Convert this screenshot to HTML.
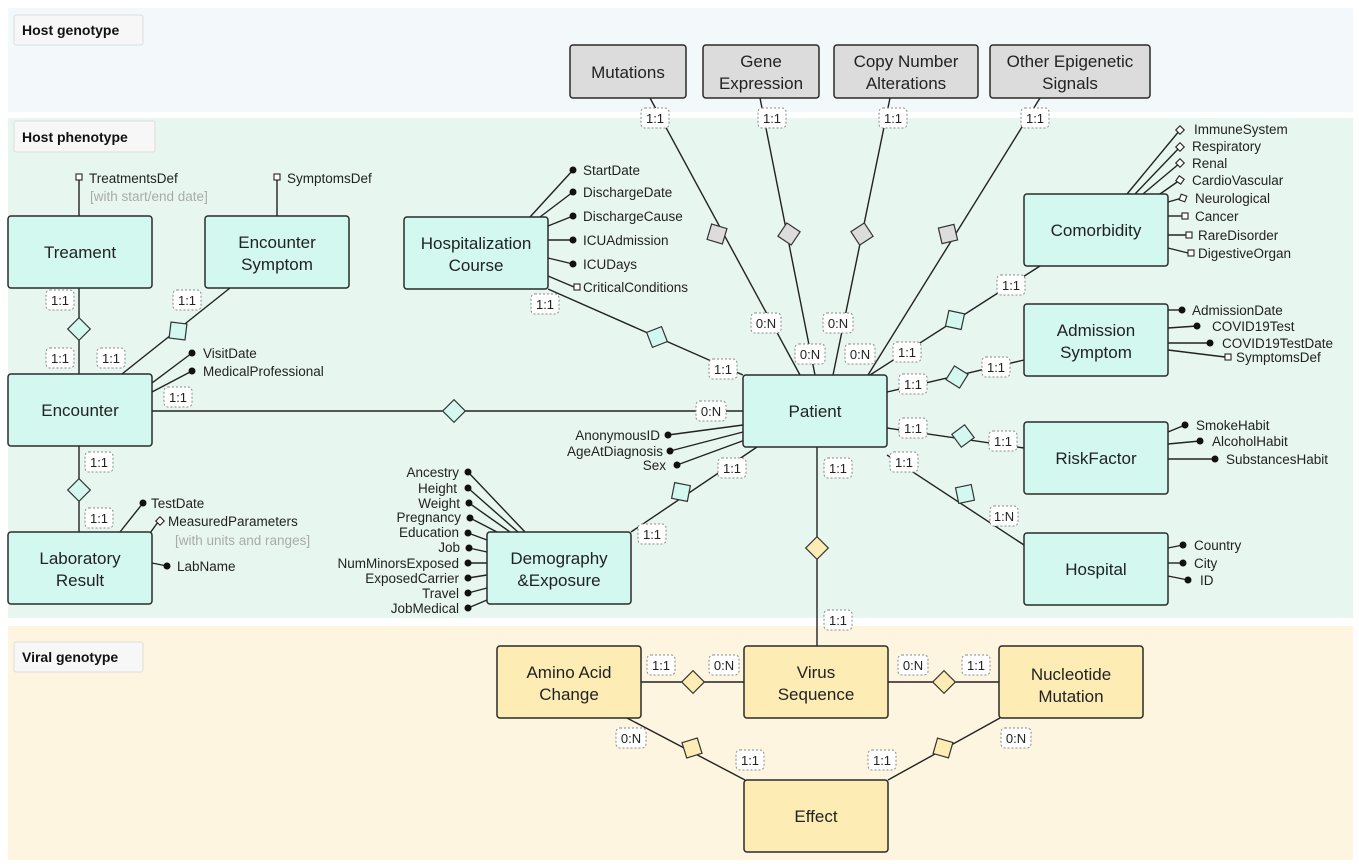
<!DOCTYPE html>
<html><head><meta charset="utf-8"><style>
html,body{margin:0;padding:0;background:#fff}
svg{display:block;font-family:"Liberation Sans",Arial,sans-serif}
.b{stroke:#2a2a2a;stroke-width:1.5}
.t{fill:#d3f8f0}.g{fill:#dcdcdc}.y{fill:#fdedb4}
.bt{font-size:17px;fill:#222;text-anchor:middle}
.a{font-size:13.5px;fill:#222}
.ar{font-size:13.5px;fill:#222;text-anchor:end}
.gr{font-size:13.5px;fill:#aaa}
.l{stroke:#222;stroke-width:1.4;fill:none}
.lb rect{fill:#fff;stroke:#888;stroke-dasharray:2 2;stroke-width:1}
.lb text{font-size:13px;fill:#222;text-anchor:middle}
.sec rect{fill:#f7f7f7;stroke:#ddd}
.sec text{font-size:14px;font-weight:bold;fill:#111}
</style></head><body>
<svg width="1359" height="864" viewBox="0 0 1359 864">
<defs>
<g id="dg"><rect x="-8" y="-8" width="16" height="16" stroke="#333" stroke-width="1.2"/></g>
</defs>
<rect x="8" y="8" width="1345" height="104" fill="#f3f8fa"/>
<rect x="8" y="118" width="1345" height="500" fill="#e7f7f0"/>
<rect x="8" y="626" width="1345" height="234" fill="#fdf5df"/>
<g class="sec"><rect x="14" y="15" width="129" height="30" rx="2"/><text x="22" y="35">Host genotype</text>
<rect x="14" y="121" width="141" height="31" rx="2"/><text x="22" y="142">Host phenotype</text>
<rect x="14" y="642" width="129" height="30" rx="2"/><text x="22" y="662">Viral genotype</text></g>

<!-- lines -->
<g class="l">
<line x1="650" y1="98" x2="800" y2="375"/><line x1="760" y1="98" x2="815" y2="375"/>
<line x1="890" y1="98" x2="833" y2="375"/><line x1="1040" y1="98" x2="868" y2="375"/>
<line x1="548" y1="289" x2="743" y2="375"/><line x1="152" y1="411" x2="743" y2="411"/>
<line x1="1040" y1="266" x2="870" y2="375"/><line x1="887" y1="392" x2="1024" y2="360"/>
<line x1="887" y1="428" x2="1024" y2="448"/><line x1="887" y1="455" x2="1024" y2="545"/>
<line x1="631" y1="532" x2="757" y2="447"/><line x1="817" y1="447" x2="817" y2="646"/>
<line x1="79" y1="288" x2="79" y2="374"/><line x1="230" y1="288" x2="122" y2="374"/>
<line x1="79" y1="446" x2="79" y2="532"/>
<line x1="641" y1="682" x2="744" y2="682"/><line x1="888" y1="682" x2="999" y2="682"/>
<line x1="627" y1="718" x2="745" y2="780"/><line x1="1000" y1="718" x2="888" y2="780"/>
<!-- attribute lines -->
<line x1="79" y1="216" x2="79" y2="180"/><line x1="277" y1="216" x2="277" y2="180"/>
<line x1="530" y1="217" x2="573" y2="170"/><line x1="540" y1="217" x2="573" y2="192"/>
<line x1="548" y1="226" x2="573" y2="216"/><line x1="548" y1="240" x2="573" y2="240"/>
<line x1="548" y1="258" x2="573" y2="264"/><line x1="548" y1="276" x2="574" y2="287"/>
<line x1="152" y1="383" x2="192" y2="353"/><line x1="152" y1="392" x2="192" y2="371"/>
<line x1="120" y1="532" x2="143" y2="503"/><line x1="145" y1="540" x2="158" y2="522"/>
<line x1="152" y1="563" x2="167" y2="566"/>
<line x1="743" y1="425" x2="668" y2="435"/><line x1="743" y1="432" x2="670" y2="451"/>
<line x1="745" y1="440" x2="677" y2="465"/>
<line x1="525" y1="532" x2="468" y2="472"/><line x1="518" y1="532" x2="468" y2="488"/>
<line x1="510" y1="532" x2="469" y2="503"/><line x1="497" y1="532" x2="470" y2="518"/>
<line x1="487" y1="540" x2="468" y2="533"/><line x1="487" y1="552" x2="469" y2="548"/>
<line x1="487" y1="563" x2="468" y2="563"/><line x1="487" y1="575" x2="468" y2="578"/>
<line x1="487" y1="588" x2="468" y2="593"/><line x1="487" y1="600" x2="468" y2="608"/>
<line x1="1127" y1="194" x2="1180" y2="130"/><line x1="1135" y1="194" x2="1180" y2="147"/>
<line x1="1143" y1="194" x2="1180" y2="163"/><line x1="1160" y1="194" x2="1180" y2="180"/>
<line x1="1168" y1="202" x2="1182" y2="198"/><line x1="1168" y1="216" x2="1182" y2="216"/>
<line x1="1168" y1="235" x2="1186" y2="235"/><line x1="1168" y1="248" x2="1188" y2="253"/>
<line x1="1168" y1="310" x2="1182" y2="310"/><line x1="1168" y1="328" x2="1197" y2="326"/>
<line x1="1168" y1="343" x2="1210" y2="343"/><line x1="1168" y1="350" x2="1225" y2="357"/>
<line x1="1168" y1="432" x2="1185" y2="425"/><line x1="1168" y1="444" x2="1200" y2="441"/>
<line x1="1168" y1="459" x2="1215" y2="459"/>
<line x1="1168" y1="548" x2="1183" y2="545"/><line x1="1168" y1="563" x2="1183" y2="563"/>
<line x1="1168" y1="576" x2="1188" y2="580"/>
</g>
<!-- dots -->
<g fill="#111">
<circle cx="573" cy="170" r="3.5"/><circle cx="573" cy="192" r="3.5"/><circle cx="573" cy="216" r="3.5"/>
<circle cx="573" cy="240" r="3.5"/><circle cx="573" cy="264" r="3.5"/>
<circle cx="192" cy="353" r="3.5"/><circle cx="192" cy="371" r="3.5"/>
<circle cx="143" cy="503" r="3.5"/><circle cx="167" cy="566" r="3.5"/>
<circle cx="668" cy="435" r="3.5"/><circle cx="670" cy="451" r="3.5"/><circle cx="677" cy="465" r="3.5"/>
<circle cx="468" cy="472" r="3.5"/><circle cx="468" cy="488" r="3.5"/><circle cx="469" cy="503" r="3.5"/>
<circle cx="470" cy="518" r="3.5"/><circle cx="468" cy="533" r="3.5"/><circle cx="469" cy="548" r="3.5"/>
<circle cx="468" cy="563" r="3.5"/><circle cx="468" cy="578" r="3.5"/><circle cx="468" cy="593" r="3.5"/>
<circle cx="468" cy="608" r="3.5"/>
<circle cx="1182" cy="310" r="3.5"/><circle cx="1197" cy="326" r="3.5"/><circle cx="1210" cy="343" r="3.5"/>
<circle cx="1185" cy="425" r="3.5"/><circle cx="1200" cy="441" r="3.5"/><circle cx="1215" cy="459" r="3.5"/>
<circle cx="1183" cy="545" r="3.5"/><circle cx="1183" cy="563" r="3.5"/><circle cx="1188" cy="580" r="3.5"/>
</g>
<!-- small squares -->
<g fill="#fff" stroke="#222" stroke-width="1.1">
<rect x="76" y="174" width="6" height="6"/><rect x="274" y="174" width="6" height="6"/>
<rect x="574" y="284" width="6" height="6"/>
<rect x="157" y="518" width="6" height="6" transform="rotate(45 160 521)"/>
<rect x="1177" y="127" width="6" height="6" transform="rotate(45 1180 130)"/>
<rect x="1177" y="144" width="6" height="6" transform="rotate(45 1180 147)"/>
<rect x="1177" y="160" width="6" height="6" transform="rotate(45 1180 163)"/>
<rect x="1177" y="177" width="6" height="6" transform="rotate(35 1180 180)"/>
<rect x="1180" y="195" width="6" height="6" transform="rotate(20 1183 198)"/>
<rect x="1182" y="213" width="6" height="6"/><rect x="1186" y="232" width="6" height="6"/>
<rect x="1188" y="250" width="6" height="6"/><rect x="1225" y="354" width="6" height="6"/>
</g>
<!-- diamonds -->
<use href="#dg" class="g" transform="translate(717,234) rotate(106.6)"/>
<use href="#dg" class="g" transform="translate(789,234) rotate(123.8)"/>
<use href="#dg" class="g" transform="translate(862,234) rotate(146.6)"/>
<use href="#dg" class="g" transform="translate(948,234) rotate(166.8)"/>
<use href="#dg" class="t" transform="translate(657,337) rotate(68.8)"/>
<use href="#dg" class="t" transform="translate(454,411) rotate(45)"/>
<use href="#dg" class="t" transform="translate(955,320) rotate(192.3)"/>
<use href="#dg" class="t" transform="translate(957,377) rotate(32)"/>
<use href="#dg" class="t" transform="translate(963,436) rotate(53.3)"/>
<use href="#dg" class="t" transform="translate(965,494) rotate(78.3)"/>
<use href="#dg" class="t" transform="translate(681,492) rotate(11)"/>
<use href="#dg" class="y" transform="translate(817,548) rotate(45)"/>
<use href="#dg" class="t" transform="translate(79,329) rotate(45)"/>
<use href="#dg" class="t" transform="translate(178,331) rotate(187)"/>
<use href="#dg" class="t" transform="translate(79,490) rotate(45)"/>
<use href="#dg" class="y" transform="translate(693,682) rotate(45)"/>
<use href="#dg" class="y" transform="translate(944,682) rotate(45)"/>
<use href="#dg" class="y" transform="translate(692,748) rotate(72.7)"/>
<use href="#dg" class="y" transform="translate(943,748) rotate(196)"/>

<!-- boxes -->
<g class="b">
<rect class="g" x="570" y="45" width="116" height="53" rx="3"/>
<rect class="g" x="703" y="45" width="116" height="53" rx="3"/>
<rect class="g" x="834" y="45" width="144" height="53" rx="3"/>
<rect class="g" x="990" y="45" width="160" height="53" rx="3"/>
<rect class="t" x="8" y="216" width="144" height="72" rx="3"/>
<rect class="t" x="205" y="216" width="144" height="72" rx="3"/>
<rect class="t" x="404" y="217" width="144" height="72" rx="3"/>
<rect class="t" x="8" y="374" width="144" height="72" rx="3"/>
<rect class="t" x="8" y="532" width="144" height="72" rx="3"/>
<rect class="t" x="743" y="375" width="144" height="72" rx="3"/>
<rect class="t" x="487" y="532" width="144" height="72" rx="3"/>
<rect class="t" x="1024" y="194" width="144" height="72" rx="3"/>
<rect class="t" x="1024" y="304" width="144" height="72" rx="3"/>
<rect class="t" x="1024" y="422" width="144" height="72" rx="3"/>
<rect class="t" x="1024" y="533" width="144" height="72" rx="3"/>
<rect class="y" x="497" y="646" width="144" height="72" rx="3"/>
<rect class="y" x="744" y="646" width="144" height="72" rx="3"/>
<rect class="y" x="999" y="646" width="144" height="72" rx="3"/>
<rect class="y" x="744" y="780" width="144" height="72" rx="3"/>
</g>
<g class="bt">
<text x="628" y="78">Mutations</text>
<text x="761" y="67">Gene</text><text x="761" y="89">Expression</text>
<text x="906" y="67">Copy Number</text><text x="906" y="89">Alterations</text>
<text x="1070" y="67">Other Epigenetic</text><text x="1070" y="89">Signals</text>
<text x="80" y="258">Treament</text>
<text x="277" y="248">Encounter</text><text x="277" y="270">Symptom</text>
<text x="476" y="249">Hospitalization</text><text x="476" y="271">Course</text>
<text x="80" y="416">Encounter</text>
<text x="80" y="564">Laboratory</text><text x="80" y="586">Result</text>
<text x="815" y="417">Patient</text>
<text x="559" y="564">Demography</text><text x="559" y="586">&amp;Exposure</text>
<text x="1096" y="236">Comorbidity</text>
<text x="1096" y="336">Admission</text><text x="1096" y="358">Symptom</text>
<text x="1096" y="464">RiskFactor</text>
<text x="1096" y="575">Hospital</text>
<text x="569" y="678">Amino Acid</text><text x="569" y="700">Change</text>
<text x="816" y="678">Virus</text><text x="816" y="700">Sequence</text>
<text x="1071" y="680">Nucleotide</text><text x="1071" y="702">Mutation</text>
<text x="816" y="822">Effect</text>
</g>
<!-- attribute text -->
<g class="a">
<text x="89" y="183">TreatmentsDef</text><text x="287" y="183">SymptomsDef</text>
<text x="583" y="175">StartDate</text><text x="583" y="197">DischargeDate</text>
<text x="583" y="221">DischargeCause</text><text x="583" y="245">ICUAdmission</text>
<text x="583" y="269">ICUDays</text><text x="583" y="292">CriticalConditions</text>
<text x="203" y="358">VisitDate</text><text x="203" y="376">MedicalProfessional</text>
<text x="151" y="508">TestDate</text><text x="168" y="526">MeasuredParameters</text>
<text x="177" y="571">LabName</text>
<text x="1194" y="134">ImmuneSystem</text><text x="1192" y="151">Respiratory</text>
<text x="1192" y="168">Renal</text><text x="1192" y="185">CardioVascular</text>
<text x="1195" y="203">Neurological</text><text x="1195" y="221">Cancer</text>
<text x="1198" y="240">RareDisorder</text><text x="1198" y="258">DigestiveOrgan</text>
<text x="1192" y="315">AdmissionDate</text><text x="1212" y="331">COVID19Test</text>
<text x="1222" y="348">COVID19TestDate</text><text x="1236" y="362">SymptomsDef</text>
<text x="1196" y="430">SmokeHabit</text><text x="1212" y="446">AlcoholHabit</text>
<text x="1226" y="464">SubstancesHabit</text>
<text x="1194" y="550">Country</text><text x="1194" y="568">City</text><text x="1200" y="585">ID</text>
</g>
<text class="gr" x="90" y="201">[with start/end date]</text>
<text class="gr" x="175" y="545">[with units and ranges]</text>
<g class="ar">
<text x="660" y="440">AnonymousID</text><text x="663" y="456">AgeAtDiagnosis</text><text x="666" y="470">Sex</text>
<text x="459" y="477">Ancestry</text><text x="457" y="493">Height</text><text x="460" y="508">Weight</text>
<text x="461" y="522">Pregnancy</text><text x="459" y="537">Education</text><text x="460" y="552">Job</text>
<text x="459" y="568">NumMinorsExposed</text><text x="459" y="583">ExposedCarrier</text>
<text x="459" y="598">Travel</text><text x="459" y="613">JobMedical</text>
</g>
<!-- cardinality labels -->
<g class="lb">
<g transform="translate(655,118)"><rect x="-14" y="-10" width="28" height="20" rx="4"/><text y="5">1:1</text></g>
<g transform="translate(772,118)"><rect x="-14" y="-10" width="28" height="20" rx="4"/><text y="5">1:1</text></g>
<g transform="translate(893,118)"><rect x="-14" y="-10" width="28" height="20" rx="4"/><text y="5">1:1</text></g>
<g transform="translate(1035,118)"><rect x="-14" y="-10" width="28" height="20" rx="4"/><text y="5">1:1</text></g>
<g transform="translate(766,323)"><rect x="-15" y="-10" width="30" height="20" rx="4"/><text y="5">0:N</text></g>
<g transform="translate(810,354)"><rect x="-15" y="-10" width="30" height="20" rx="4"/><text y="5">0:N</text></g>
<g transform="translate(838,323)"><rect x="-15" y="-10" width="30" height="20" rx="4"/><text y="5">0:N</text></g>
<g transform="translate(860,354)"><rect x="-15" y="-10" width="30" height="20" rx="4"/><text y="5">0:N</text></g>
<g transform="translate(545,304)"><rect x="-14" y="-10" width="28" height="20" rx="4"/><text y="5">1:1</text></g>
<g transform="translate(723,369)"><rect x="-14" y="-10" width="28" height="20" rx="4"/><text y="5">1:1</text></g>
<g transform="translate(178,397)"><rect x="-14" y="-10" width="28" height="20" rx="4"/><text y="5">1:1</text></g>
<g transform="translate(711,411)"><rect x="-15" y="-10" width="30" height="20" rx="4"/><text y="5">0:N</text></g>
<g transform="translate(1011,285)"><rect x="-14" y="-10" width="28" height="20" rx="4"/><text y="5">1:1</text></g>
<g transform="translate(907,352)"><rect x="-14" y="-10" width="28" height="20" rx="4"/><text y="5">1:1</text></g>
<g transform="translate(913,384)"><rect x="-14" y="-10" width="28" height="20" rx="4"/><text y="5">1:1</text></g>
<g transform="translate(996,367)"><rect x="-14" y="-10" width="28" height="20" rx="4"/><text y="5">1:1</text></g>
<g transform="translate(913,428)"><rect x="-14" y="-10" width="28" height="20" rx="4"/><text y="5">1:1</text></g>
<g transform="translate(1003,441)"><rect x="-14" y="-10" width="28" height="20" rx="4"/><text y="5">1:1</text></g>
<g transform="translate(904,462)"><rect x="-14" y="-10" width="28" height="20" rx="4"/><text y="5">1:1</text></g>
<g transform="translate(1004,516)"><rect x="-14" y="-10" width="28" height="20" rx="4"/><text y="5">1:N</text></g>
<g transform="translate(732,468)"><rect x="-14" y="-10" width="28" height="20" rx="4"/><text y="5">1:1</text></g>
<g transform="translate(652,534)"><rect x="-14" y="-10" width="28" height="20" rx="4"/><text y="5">1:1</text></g>
<g transform="translate(838,468)"><rect x="-14" y="-10" width="28" height="20" rx="4"/><text y="5">1:1</text></g>
<g transform="translate(838,620)"><rect x="-14" y="-10" width="28" height="20" rx="4"/><text y="5">1:1</text></g>
<g transform="translate(60,300)"><rect x="-14" y="-10" width="28" height="20" rx="4"/><text y="5">1:1</text></g>
<g transform="translate(60,358)"><rect x="-14" y="-10" width="28" height="20" rx="4"/><text y="5">1:1</text></g>
<g transform="translate(187,300)"><rect x="-14" y="-10" width="28" height="20" rx="4"/><text y="5">1:1</text></g>
<g transform="translate(111,358)"><rect x="-14" y="-10" width="28" height="20" rx="4"/><text y="5">1:1</text></g>
<g transform="translate(99,462)"><rect x="-14" y="-10" width="28" height="20" rx="4"/><text y="5">1:1</text></g>
<g transform="translate(99,518)"><rect x="-14" y="-10" width="28" height="20" rx="4"/><text y="5">1:1</text></g>
<g transform="translate(661,665)"><rect x="-14" y="-10" width="28" height="20" rx="4"/><text y="5">1:1</text></g>
<g transform="translate(724,665)"><rect x="-15" y="-10" width="30" height="20" rx="4"/><text y="5">0:N</text></g>
<g transform="translate(913,665)"><rect x="-15" y="-10" width="30" height="20" rx="4"/><text y="5">0:N</text></g>
<g transform="translate(976,665)"><rect x="-14" y="-10" width="28" height="20" rx="4"/><text y="5">1:1</text></g>
<g transform="translate(631,738)"><rect x="-15" y="-10" width="30" height="20" rx="4"/><text y="5">0:N</text></g>
<g transform="translate(750,760)"><rect x="-14" y="-10" width="28" height="20" rx="4"/><text y="5">1:1</text></g>
<g transform="translate(882,760)"><rect x="-14" y="-10" width="28" height="20" rx="4"/><text y="5">1:1</text></g>
<g transform="translate(1016,738)"><rect x="-15" y="-10" width="30" height="20" rx="4"/><text y="5">0:N</text></g>
</g>
</svg>
</body></html>
